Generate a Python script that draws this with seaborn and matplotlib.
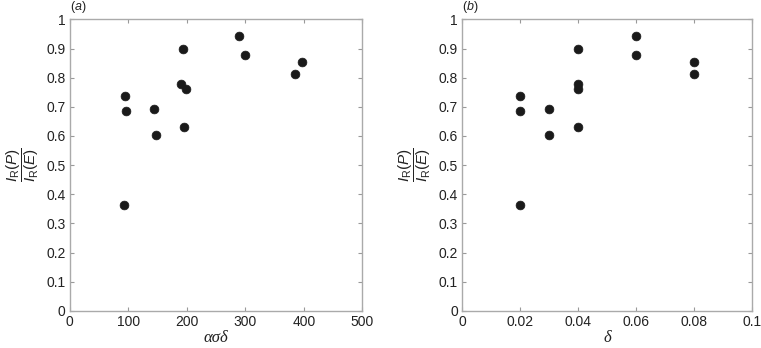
import seaborn as sns
import pandas as pd
import matplotlib
matplotlib.use("Agg")
from matplotlib import pyplot as plt

# values
asd = [92, 95, 97, 143.5, 147, 190, 193, 196, 199, 289, 299, 385.5, 397.5]
delta = [0.02, 0.02, 0.02, 0.03, 0.03, 0.04, 0.04, 0.04, 0.04, 0.06, 0.06, 0.08, 0.08]
ratio = [0.364, 0.738, 0.685, 0.693, 0.604, 0.779, 0.897, 0.630, 0.760, 0.943, 0.879, 0.813, 0.854]

y_ticks = [0, 0.1, 0.2, 0.3, 0.4, 0.5, 0.6, 0.7, 0.8, 0.9, 1]
y_labels = ["0", "0.1", "0.2", "0.3", "0.4", "0.5", "0.6", "0.7", "0.8", "0.9", "1"]
x_ticks_a = [0, 100, 200, 300, 400, 500]
x_ticks_b = [0, 0.02, 0.04, 0.06, 0.08, 0.1]
x_labels_b = ["0", "0.02", "0.04", "0.06", "0.08", "0.1"]

df = pd.DataFrame({"asd": asd, "delta": delta, "ratio": ratio})

sns.set_style("white")
plt.rcParams["font.family"] = ["Liberation Sans", "DejaVu Sans"]
plt.rcParams["mathtext.fontset"] = "custom"
plt.rcParams["mathtext.rm"] = "Liberation Sans"
plt.rcParams["mathtext.it"] = "Liberation Sans:italic"

fig = plt.figure(figsize=(7.61, 3.48), dpi=100)
ax1 = fig.add_axes([0.0916, 0.107, 0.3845, 0.837])
ax2 = fig.add_axes([0.607, 0.107, 0.3816, 0.837])

ylab = r"$\dfrac{I_\mathrm{R}(P)}{I_\mathrm{R}(E)}$"

for ax, xcol, xt, xl, xlim, panel, xlabel in [
    (ax1, "asd", x_ticks_a, [str(v) for v in x_ticks_a], (0, 500), "a", "ασδ"),
    (ax2, "delta", x_ticks_b, x_labels_b, (0, 0.1), "b", "δ"),
]:
    sns.scatterplot(data=df, x=xcol, y="ratio", ax=ax, color="#1a1a1a",
                    s=40, edgecolor="#1a1a1a", linewidth=0.5)
    ax.set_xlim(*xlim)
    ax.set_ylim(0, 1)
    ax.set_xticks(xt)
    ax.set_xticklabels(xl)
    ax.set_yticks(y_ticks)
    ax.set_yticklabels(y_labels)
    ax.tick_params(direction="in", length=3, width=0.8, color="#999999",
                   labelsize=10, labelcolor="#222222", top=True, right=True,
                   bottom=True, left=True, pad=3)
    for sp in ax.spines.values():
        sp.set_color("#aaaaaa")
        sp.set_linewidth(1.0)
    ax.set_xlabel(xlabel, fontfamily="Liberation Serif", style="italic",
                  fontsize=12, labelpad=1, color="#222222")
    ax.set_ylabel(ylab, fontsize=11, labelpad=4, color="#222222")
    ax.text(0.0, 1.015, "(" + r"$\it{" + panel + "}$" + ")",
            transform=ax.transAxes, fontsize=9, va="bottom", color="#222222")

plt.savefig("out.png", dpi=100)
